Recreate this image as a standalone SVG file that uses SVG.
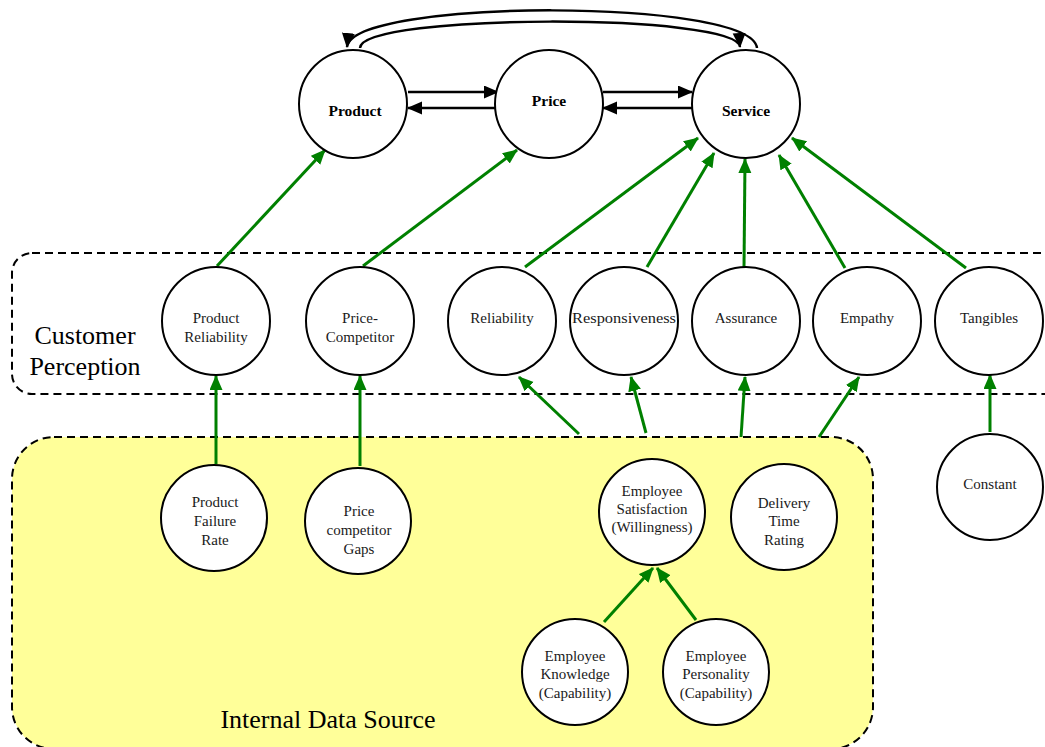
<svg xmlns="http://www.w3.org/2000/svg" width="1045" height="747" viewBox="0 0 1045 747">
  <style>
    .node { fill: #ffffff; stroke: #000000; stroke-width: 2; }
    .lbl { font-family: "Liberation Serif", "Times New Roman", serif; font-size: 15px; fill: #1a1a1a; text-anchor: middle; }
    .main { font-family: "Liberation Serif", "Times New Roman", serif; font-size: 15.5px; font-weight: bold; fill: #000000; text-anchor: middle; }
    .group-title { font-family: "Liberation Serif", "Times New Roman", serif; font-size: 26px; fill: #000000; }
    .frame { stroke: #000000; stroke-width: 2; stroke-dasharray: 8 5; }
    .blk { fill: none; stroke: #000000; stroke-width: 2.5; marker-end: url(#headBlack); }
    .grn { fill: none; stroke: #008000; stroke-width: 3; marker-end: url(#headGreen); }
  </style>
  <defs>
    <marker id="headBlack" markerUnits="userSpaceOnUse" markerWidth="16" markerHeight="14" refX="14" refY="6.5" orient="auto">
      <path d="M0,0 L15,6.5 L0,13 z" fill="#000000"/>
    </marker>
    <marker id="headGreen" markerUnits="userSpaceOnUse" markerWidth="16" markerHeight="14" refX="14" refY="6.5" orient="auto">
      <path d="M0,0 L15,6.5 L0,13 z" fill="#008000"/>
    </marker>
  </defs>

  <rect width="1045" height="747" fill="#ffffff"/>

  <!-- group frames -->
  <g id="customer-perception">
    <rect class="frame" x="12" y="253" width="1052" height="141" rx="20" fill="none"/>
    <text class="group-title" x="85" y="344" text-anchor="middle">Customer</text>
    <text class="group-title" x="85" y="375" text-anchor="middle">Perception</text>
  </g>
  <g id="internal-data-source">
    <rect class="frame" x="12" y="437" width="861" height="312" rx="42" fill="#ffff99"/>
    <text class="group-title" x="328" y="728" text-anchor="middle">Internal Data Source</text>
  </g>

  <!-- connectors -->
  <g id="connectors">
    <!-- between the three top nodes -->
    <path class="blk" d="M408,92 L498,92"/>
    <path class="blk" d="M497,108 L408,108"/>
    <path class="blk" d="M603,92 L692,92"/>
    <path class="blk" d="M692,108 L603,108"/>
    <path class="blk" d="M757,48 C752,-2 352,-2 347,47"/>
    <path class="blk" d="M360,48 C362,13 738,13 740,47"/>

    <!-- perception to top nodes -->
    <path class="grn" d="M217,266 L325,150"/>
    <path class="grn" d="M363,266 L517,150"/>
    <path class="grn" d="M525,267 L698,138"/>
    <path class="grn" d="M647,267 L714,153"/>
    <path class="grn" d="M744,268 L745,159"/>
    <path class="grn" d="M845,268 L779,155"/>
    <path class="grn" d="M966,268 L792,138"/>

    <!-- internal sources to perception -->
    <path class="grn" d="M216,464 L216,376"/>
    <path class="grn" d="M360,466 L360,376"/>
    <path class="grn" d="M579,434 L519,377"/>
    <path class="grn" d="M646,433 L631,377"/>
    <path class="grn" d="M741,437 L745,377"/>
    <path class="grn" d="M819,437 L859,377"/>
    <path class="grn" d="M990,432 L990,375"/>

    <!-- capability to satisfaction -->
    <path class="grn" d="M604,622 L653,568"/>
    <path class="grn" d="M696,620 L657,568"/>
  </g>

  <!-- top nodes -->
  <g id="product">
    <circle class="node" cx="353" cy="104" r="54"/>
    <text class="main" x="355" y="116">Product</text>
  </g>
  <g id="price">
    <circle class="node" cx="549" cy="104" r="54"/>
    <text class="main" x="549" y="106">Price</text>
  </g>
  <g id="service">
    <circle class="node" cx="746" cy="104" r="54"/>
    <text class="main" x="746" y="116">Service</text>
  </g>

  <!-- perception nodes -->
  <g id="product-reliability">
    <circle class="node" cx="216" cy="321" r="54"/>
    <text class="lbl" x="216" y="323">Product</text>
    <text class="lbl" x="216" y="342">Reliability</text>
  </g>
  <g id="price-competitor">
    <circle class="node" cx="360" cy="321" r="54"/>
    <text class="lbl" x="360" y="323">Price-</text>
    <text class="lbl" x="360" y="342">Competitor</text>
  </g>
  <g id="reliability">
    <circle class="node" cx="502" cy="321" r="54"/>
    <text class="lbl" x="502" y="323">Reliability</text>
  </g>
  <g id="responsiveness">
    <circle class="node" cx="624" cy="321" r="54"/>
    <text class="lbl" x="624" y="323" textLength="104" lengthAdjust="spacingAndGlyphs">Responsiveness</text>
  </g>
  <g id="assurance">
    <circle class="node" cx="746" cy="321" r="54"/>
    <text class="lbl" x="746" y="323">Assurance</text>
  </g>
  <g id="empathy">
    <circle class="node" cx="867" cy="321" r="54"/>
    <text class="lbl" x="867" y="323">Empathy</text>
  </g>
  <g id="tangibles">
    <circle class="node" cx="989" cy="321" r="54"/>
    <text class="lbl" x="989" y="323">Tangibles</text>
  </g>

  <!-- internal source nodes -->
  <g id="product-failure-rate">
    <circle class="node" cx="214" cy="518" r="53"/>
    <text class="lbl" x="215" y="507">Product</text>
    <text class="lbl" x="215" y="526">Failure</text>
    <text class="lbl" x="215" y="545">Rate</text>
  </g>
  <g id="price-competitor-gaps">
    <circle class="node" cx="358" cy="521" r="53"/>
    <text class="lbl" x="359" y="516">Price</text>
    <text class="lbl" x="359" y="535">competitor</text>
    <text class="lbl" x="359" y="554">Gaps</text>
  </g>
  <g id="employee-satisfaction">
    <circle class="node" cx="652" cy="512" r="53"/>
    <text class="lbl" x="652" y="496">Employee</text>
    <text class="lbl" x="652" y="514">Satisfaction</text>
    <text class="lbl" x="652" y="532">(Willingness)</text>
  </g>
  <g id="delivery-time-rating">
    <circle class="node" cx="784" cy="517" r="53"/>
    <text class="lbl" x="784" y="508">Delivery</text>
    <text class="lbl" x="784" y="526">Time</text>
    <text class="lbl" x="784" y="545">Rating</text>
  </g>
  <g id="employee-knowledge">
    <circle class="node" cx="575" cy="672" r="53"/>
    <text class="lbl" x="575" y="661">Employee</text>
    <text class="lbl" x="575" y="679">Knowledge</text>
    <text class="lbl" x="575" y="698">(Capability)</text>
  </g>
  <g id="employee-personality">
    <circle class="node" cx="716" cy="672" r="53"/>
    <text class="lbl" x="716" y="661">Employee</text>
    <text class="lbl" x="716" y="679">Personality</text>
    <text class="lbl" x="716" y="698">(Capability)</text>
  </g>
  <g id="constant">
    <circle class="node" cx="990" cy="487" r="53"/>
    <text class="lbl" x="990" y="489">Constant</text>
  </g>
</svg>
